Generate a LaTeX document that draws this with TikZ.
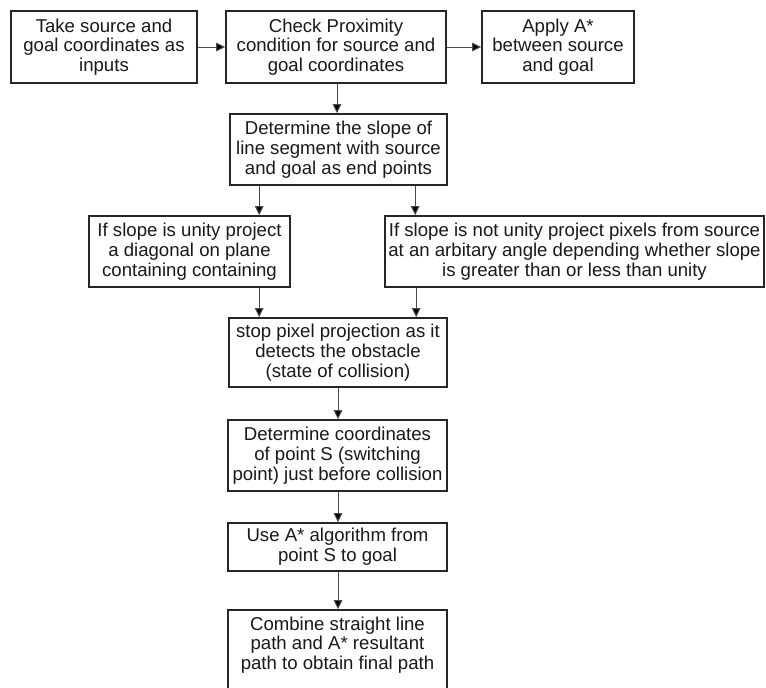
\documentclass[tikz,border=0pt]{standalone}
\usepackage{fontspec}
\setmainfont{Liberation Sans}
\usetikzlibrary{arrows.meta}
\begin{document}
\begin{tikzpicture}[x=1pt,y=-1pt,
  box/.style={draw=black!85, line width=1.6pt, align=center, inner sep=0pt,
    font=\fontsize{18.6}{19.8}\selectfont, text=black!90},
  txt/.style={align=center, inner sep=0pt, font=\fontsize{18.6}{19.8}\selectfont, text=black!90},
  arr/.style={draw=black!70, line width=1pt, -{Triangle[length=9pt,width=8.5pt,fill=black]}}]
\useasboundingbox (0,0) rectangle (766,688);
\fill[white] (0,0) rectangle (766,688);
\node[box, minimum width=186pt, minimum height=72pt] (b1) at (104,47)
  {Take source and\\goal coordinates as\\inputs};
\node[box, minimum width=220pt, minimum height=72pt] (b2) at (336,47)
  {Check Proximity\\condition for source and\\goal coordinates};
\node[box, minimum width=152pt, minimum height=72pt] (b3) at (558,47)
  {Apply A*\\between source\\and goal};
\node[box, minimum width=217pt, minimum height=71pt] (b4) at (338.5,149.5)
  {Determine the slope of\\line segment with source\\and goal as end points};
\node[box, minimum width=201pt, minimum height=71pt] (b5) at (189.5,251.5)
  {If slope is unity project\\a diagonal on plane\\containing containing};
\node[box, minimum width=379pt, minimum height=71pt] (b6) at (574.5,251.5)
  {If slope is not unity project pixels from source\\at an arbitary angle depending whether slope\\is greater than or less than unity};
\node[box, minimum width=218pt, minimum height=69pt] (b7) at (338,352.5)
  {stop pixel projection as it\\detects the obstacle\\(state of collision)};
\node[box, minimum width=219pt, minimum height=71pt] (b8) at (337.5,455.5)
  {Determine coordinates\\of point S (switching\\point) just before collision};
\node[box, minimum width=219pt, minimum height=48pt] (b9) at (337.5,547)
  {Use A* algorithm from\\point S to goal};
\node[box, minimum width=219pt, minimum height=84pt] (b10) at (337.5,652) {};
\node[txt] (t10) at (337.5,645)
  {Combine straight line\\path and A* resultant\\path to obtain final path};
\draw[arr] (b1.east) -- (b2.west);
\draw[arr] (b2.east) -- (b3.west);
\draw[arr] ([xshift=1pt]b2.south) -- ([xshift=1pt]b2.south |- b4.north);
\draw[arr] ([xshift=30pt]b4.south west) -- ([xshift=30pt]b4.south west |- b5.north);
\draw[arr] ([xshift=186pt]b4.south west) -- ([xshift=186pt]b4.south west |- b6.north);
\draw[arr] ([xshift=31pt]b7.north west |- b5.south) -- ([xshift=31pt]b7.north west);
\draw[arr] ([xshift=188pt]b7.north west |- b6.south) -- ([xshift=188pt]b7.north west);
\draw[arr] (b7.south) -- (b7.south |- b8.north);
\draw[arr] ([xshift=0.5pt]b8.south) -- ([xshift=0.5pt]b8.south |- b9.north);
\draw[arr] ([xshift=0.5pt]b9.south) -- ([xshift=0.5pt]b9.south |- b10.north);
\end{tikzpicture}
\end{document}
